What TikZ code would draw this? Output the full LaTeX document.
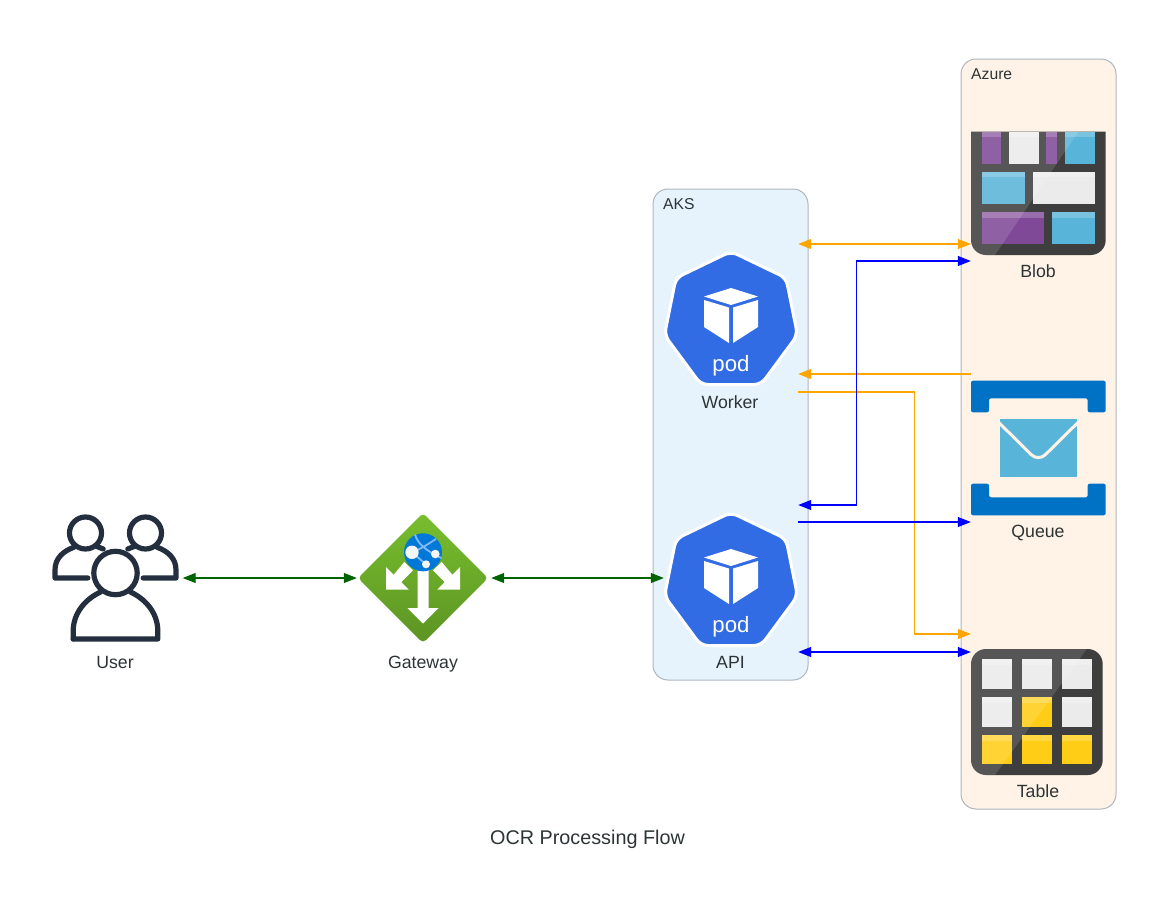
\documentclass[tikz,border=0pt]{standalone}
\usepackage{fontspec}
\setmainfont{Liberation Sans}
\usetikzlibrary{arrows.meta}

\definecolor{inktext}{HTML}{2D3436}
\definecolor{inkuser}{HTML}{232F3E}
\definecolor{akspanel}{HTML}{E6F3FC}
\definecolor{azurepanel}{HTML}{FEF3E6}
\definecolor{panelline}{HTML}{AEB6BE}
\definecolor{kubeblue}{HTML}{326CE5}
\definecolor{tileframe}{HTML}{3E3E3E}
\definecolor{tilepurple}{HTML}{804998}
\definecolor{tileblue}{HTML}{59B4D9}
\definecolor{tilewhite}{HTML}{EBEBEB}
\definecolor{tileyellow}{HTML}{FFCD15}
\definecolor{queueblue}{HTML}{0072C6}
\definecolor{queuecream}{HTML}{FEF3E6}
\definecolor{gategreentop}{HTML}{78BE2E}
\definecolor{gategreenbottom}{HTML}{5C9423}
\definecolor{globeblue}{HTML}{0078D7}
\definecolor{globeline}{HTML}{83B9F9}
\definecolor{flowgreen}{HTML}{006400}
\definecolor{floworange}{HTML}{FFA500}
\definecolor{flowblue}{HTML}{0000FF}

\tikzset{
  iconbox/.style={minimum width=134pt, minimum height=134pt, inner sep=0pt},
  iconlabel/.style={text=inktext, inner sep=0pt, text height=12.5pt, text depth=3.5pt, font=\fontsize{17.7}{20}\selectfont},
  panel/.style={draw=panelline, line width=1pt, rounded corners=15pt, minimum width=155pt},
  panellabel/.style={anchor=west, text=inktext, inner sep=0pt, font=\fontsize{15.7}{18}\selectfont},
  flowedge/.style={line width=1.1pt, >={Triangle[length=13pt,width=10pt]}},
}

% one tile of the storage icons: x1, y1, x2, y2, colour
\def\tile#1#2#3#4#5{
    \fill[#5] (#1, #2) rectangle (#3, #4);
    \fill[white, opacity=0.2] (#1, #2) rectangle (#3, #2+5.5);
  }

\def\podicon#1{
    \begin{scope}[shift={(#1)}, yshift=-3pt]
      \draw[fill=kubeblue, draw=white, line width=3pt, rounded corners=7pt]
        (0, -68.5) -- (55, -42) -- (66.5, 15) -- (30, 64.5) -- (-30, 64.5) -- (-66.5, 15) -- (-55, -42) -- cycle;
      \fill[white] (0, -32) -- (27, -23.5) -- (0, -15) -- (-27, -23.5) -- cycle;
      \fill[white] (-27, -20) -- (-2, -12.5) -- (-2, 23) -- (-27, 7) -- cycle;
      \fill[white] (2, -12.5) -- (27, -20) -- (27, 7) -- (2, 23) -- cycle;
      \node[text=white, inner sep=0pt, font=\fontsize{22.2}{24}\selectfont] (#1pod) at (0, 46) {pod};
    \end{scope}
  }

\def\usericon#1{
    \begin{scope}[shift={(#1)}, yshift=5pt, draw=inkuser, line width=5.2pt, line cap=round, line join=round]
      \draw (0, 0) circle (21.7);
      \draw (-42.3, 66) -- (42.3, 66) -- (42.3, 58) .. controls (42.3, 40) and (30, 26) .. (15, 19);
      \draw (-42.3, 66) -- (-42.3, 58) .. controls (-42.3, 40) and (-30, 26) .. (-15, 19);
      % the two people behind
      \foreach \side in {-1, 1} {
        \begin{scope}[xscale=\side]
          \draw (30, -40) circle (16);
          \draw (27.7, 5) -- (60.5, 5) -- (60.5, -3) .. controls (60.5, -15) and (52, -22) .. (41.7, -25.7);
          \draw (19, -26.7) -- (12.3, -24);
        \end{scope}
      }
    \end{scope}
  }

\def\gatewayicon#1{
    \begin{scope}[shift={(#1)}, xshift=-1pt]
      \shade[top color=gategreentop, bottom color=gategreenbottom, rounded corners=4pt]
        (0, -65) -- (65, 0) -- (0, 65) -- (-65, 0) -- cycle;
      % white arrows
      \fill[white] (-5.5, -10) -- (5.5, -10) -- (5.5, 30) -- (15.5, 30) -- (0, 45.7) -- (-15.5, 30) -- (-5.5, 30) -- cycle;
      \fill[white] (-37, -11) -- (-37, 11.7) -- (-14.3, 11.7) -- (-21.7, 4) -- (-10, -7.7) -- (-18.7, -16) -- (-29.3, -3.3) -- cycle;
      \fill[white] (37, -11) -- (37, 11.7) -- (14.3, 11.7) -- (21.7, 4) -- (10, -7.7) -- (18.7, -16) -- (29.3, -3.3) -- cycle;
      % globe
      \fill[globeblue] (0, -25.7) circle (19);
      \draw[globeline, line width=1.8pt] (-8, -43.5) .. controls (-5, -34) and (2, -28) .. (18.5, -20);
      \draw[globeline, line width=1.8pt] (-11, -25.7) .. controls (0, -30) and (8, -36) .. (13, -39);
      \draw[globeline, line width=1.8pt] (-11, -25.7) -- (3, -13.7);
      \fill[white!93!gray] (-11, -25.7) circle (6.7);
      \fill[white!93!gray] (12.3, -24) circle (4.3);
      \fill[white!93!gray] (3, -13.7) circle (4);
    \end{scope}
  }

\def\blobicon#1{
    \begin{scope}[shift={(#1)}, xshift=-67pt, yshift=61.3pt]
      \fill[tileframe] (0, 0) -- (134.7, 0) -- (134.7, 60) [rounded corners=15pt] -- (134.7, 123.3) -- (0, 123.3) -- (0, 60) [sharp corners] -- cycle;
      \tile{11}{0}{29.7}{32}{tilepurple}
      \tile{37.7}{0}{67.7}{32}{tilewhite}
      \tile{75.3}{0}{86.3}{32}{tilepurple}
      \tile{94.3}{0}{124}{32}{tileblue}
      \tile{11}{40}{54}{72.3}{tileblue}
      \tile{62}{40}{124}{72.3}{tilewhite}
      \tile{11}{80.7}{72.7}{112.7}{tilepurple}
      \tile{80.7}{80.7}{124}{112.7}{tileblue}
      % shine
      \begin{scope}
        \clip (0, 0) -- (134.7, 0) -- (134.7, 60) [rounded corners=15pt] -- (134.7, 123.3) -- (0, 123.3) -- (0, 60) [sharp corners] -- cycle;
        \fill[white, opacity=0.13] (0, 0) -- (107.3, 0) -- (24, 123.3) -- (0, 123.3) -- cycle;
      \end{scope}
    \end{scope}
  }

\def\queueicon#1{
    \begin{scope}[shift={(#1)}, xshift=-67pt, yshift=67.3pt]
      \fill[queueblue, rounded corners=2pt] (0, 0) -- (134.7, 0) -- (134.7, 31.6) -- (116.7, 31.6) -- (116.7, 17.6) -- (18, 17.6) -- (18, 31.6) -- (0, 31.6) -- cycle;
      \fill[queueblue, rounded corners=2pt] (0, 134.6) -- (134.7, 134.6) -- (134.7, 103) -- (116.7, 103) -- (116.7, 116.6) -- (18, 116.6) -- (18, 103) -- (0, 103) -- cycle;
      \fill[tileblue] (29, 38.7) rectangle (105.7, 96);
      \draw[queuecream, line width=3pt, rounded corners=10pt] (28, 42) -- (67.3, 81) -- (106.7, 42);
    \end{scope}
  }

\def\tableicon#1{
    \begin{scope}[shift={(#1)}, xshift=-67pt, yshift=63pt]
      \fill[tileframe, rounded corners=15pt] (0, 0) rectangle (131.7, 126);
      \tile{11}{10.3}{40.7}{40.3}{tilewhite}
      \tile{51}{10.3}{81}{40.3}{tilewhite}
      \tile{91.3}{10.3}{121.3}{40.3}{tilewhite}
      \tile{11}{48}{40.7}{78}{tilewhite}
      \tile{51}{48}{81}{78}{tileyellow}
      \tile{91.3}{48}{121.3}{78}{tilewhite}
      \tile{11}{86}{40.7}{115.3}{tileyellow}
      \tile{51}{86}{81}{115.3}{tileyellow}
      \tile{91.3}{86}{121.3}{115.3}{tileyellow}
      % shine
      \begin{scope}
        \clip[rounded corners=15pt] (0, 0) rectangle (131.7, 126);
        \fill[white, opacity=0.13] (0, 0) -- (115.7, 0) -- (24, 126) -- (0, 126) -- cycle;
      \end{scope}
    \end{scope}
  }

\begin{document}
\begin{tikzpicture}[x=1pt, y=-1pt]
    \useasboundingbox (0, 0) rectangle (1175, 900);
    % panels
    \node[panel, fill=akspanel, minimum height=491pt] (aks) at (730.5, 434.5) {};
    \node[panel, fill=azurepanel, minimum height=750pt] (azure) at (1038.5, 434) {};
    \node[panellabel] (akslabel) at (663, 204) {AKS};
    \node[panellabel] (azurelabel) at (971, 74.5) {Azure};
    % nodes
    \node[iconbox] (user) at (115.5, 578) {};
    \node[iconbox] (gateway) at (424, 578) {};
    \node[iconbox] (api) at (731, 578) {};
    \node[iconbox] (worker) at (731, 317) {};
    \node[iconbox] (blob) at (1038, 193) {};
    \node[iconbox] (queue) at (1038, 448) {};
    \node[iconbox] (table) at (1038, 712) {};
    \usericon{user}
    \gatewayicon{gateway}
    \podicon{api}
    \podicon{worker}
    \blobicon{blob}
    \queueicon{queue}
    \tableicon{table}
    \node[iconlabel] (userlabel) at (115, 664) {User};
    \node[iconlabel] (gatewaylabel) at (423, 664) {Gateway};
    \node[iconlabel] (apilabel) at (730.5, 664) {API};
    \node[iconlabel] (workerlabel) at (730, 404) {Worker};
    \node[iconlabel] (bloblabel) at (1038, 273) {Blob};
    \node[iconlabel] (queuelabel) at (1038, 533) {Queue};
    \node[iconlabel] (tablelabel) at (1038, 793) {Table};
    % title
    \node[text=inktext, inner sep=0pt, font=\fontsize{19.8}{22}\selectfont] (title) at (587.5, 839) {OCR Processing Flow};
    % user side
    \draw[flowedge, flowgreen, <->] (user.east) -- (gateway.west);
    \draw[flowedge, flowgreen, <->] (gateway.east) -- (api.west);
    % worker edges
    \draw[flowedge, floworange, <->] ([yshift=73pt]worker.east) -- ([yshift=-51pt]blob.west);
    \draw[flowedge, floworange, ->] ([yshift=74pt]queue.west) -- ([yshift=-57pt]worker.east);
    \draw[flowedge, floworange, ->] ([yshift=-75pt]worker.east) -- ++(116, 0) |- ([yshift=78pt]table.west);
    % api edges
    \draw[flowedge, flowblue, <->] ([yshift=73pt]api.east) -- ++(58, 0) |- ([yshift=-68pt]blob.west);
    \draw[flowedge, flowblue, ->] ([yshift=56pt]api.east) -- ([yshift=-74pt]queue.west);
    \draw[flowedge, flowblue, <->] ([yshift=-74pt]api.east) -- ([yshift=60pt]table.west);
  \end{tikzpicture}
\end{document}
